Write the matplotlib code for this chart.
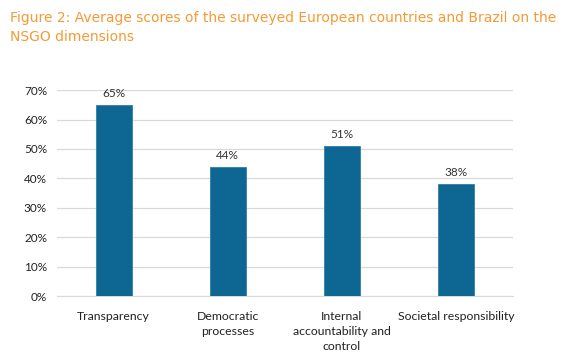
import matplotlib.pyplot as plt
from matplotlib.ticker import PercentFormatter

categories = ["Transparency", "Democratic\nprocesses", "Internal\naccountability and\ncontrol", "Societal responsibility"]
scores = [0.65, 0.44, 0.51, 0.38]
yticks = [0, 0.1, 0.2, 0.3, 0.4, 0.5, 0.6, 0.7]

fig = plt.figure(figsize=(5.79, 3.62), dpi=100)
ax = fig.add_axes([0.098, 0.182, 0.788, 0.569])

x = range(len(categories))
bars = ax.bar(x, scores, width=0.32, color="#0E6692", edgecolor="#2E7FA8", linewidth=0.6, zorder=3)

for xi, v in zip(x, scores):
    ax.text(xi, v + 0.02, f"{v*100:.0f}%", ha="center", va="bottom", fontsize=8.5, family="Lato", color="#333333")

ax.set_xlim(-0.5, 3.5)
ax.set_ylim(0, 0.7)
ax.set_yticks(yticks)
ax.yaxis.set_major_formatter(PercentFormatter(1.0, decimals=0))
ax.set_xticks(list(x))
ax.set_xticklabels(categories, fontsize=8.8, family="Lato", color="#222222", linespacing=1.4)
ax.tick_params(axis="x", pad=11)
ax.tick_params(axis="y", pad=7)
for lbl in ax.get_yticklabels():
    lbl.set_fontsize(8.5)
    lbl.set_family("Lato")
    lbl.set_color("#222222")

ax.grid(axis="y", color="#D9D9D9", linewidth=0.9, zorder=0)
for side in ["top", "right", "left"]:
    ax.spines[side].set_visible(False)
ax.spines["bottom"].set_color("#D9D9D9")
ax.tick_params(axis="both", length=0)

fig.text(0.017, 0.97, "Figure 2: Average scores of the surveyed European countries and Brazil on the\nNSGO dimensions",
         ha="left", va="top", fontsize=10, color="#F59A35", family="DejaVu Sans", linespacing=1.45)

fig.savefig("out.png", dpi=100)
